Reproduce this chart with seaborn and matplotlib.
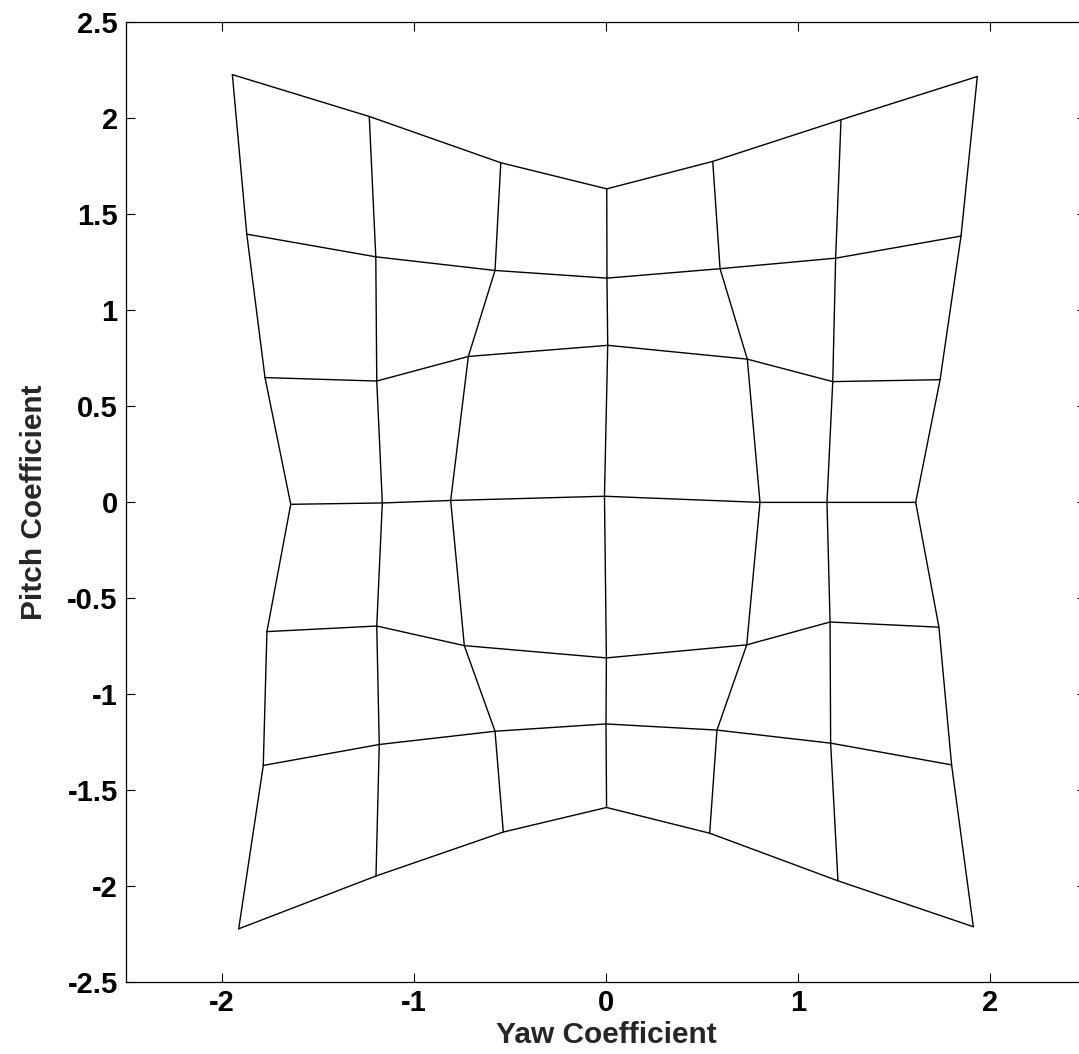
import numpy as np
import pandas as pd
import seaborn as sns
import matplotlib
matplotlib.use("Agg")
import matplotlib.pyplot as plt

# Mesh node coordinates, 7 rows (top to bottom) x 7 columns (left to right)
yaw_rows = [
    [-1.946, -1.233, -0.548, 0.004, 0.556, 1.224, 1.934],
    [-1.871, -1.199, -0.578, 0.005, 0.594, 1.196, 1.849],
    [-1.776, -1.194, -0.717, 0.009, 0.736, 1.181, 1.740],
    [-1.642, -1.165, -0.809, -0.008, 0.802, 1.151, 1.613],
    [-1.766, -1.194, -0.738, 0.002, 0.733, 1.167, 1.734],
    [-1.785, -1.181, -0.578, 0.000, 0.578, 1.170, 1.800],
    [-1.913, -1.198, -0.535, 0.003, 0.540, 1.208, 1.913],
]
pitch_rows = [
    [2.226, 2.008, 1.767, 1.631, 1.774, 1.991, 2.216],
    [1.395, 1.277, 1.206, 1.166, 1.215, 1.270, 1.385],
    [0.648, 0.630, 0.758, 0.816, 0.744, 0.627, 0.637],
    [-0.012, -0.005, 0.008, 0.030, -0.002, -0.002, -0.002],
    [-0.675, -0.646, -0.748, -0.812, -0.744, -0.625, -0.652],
    [-1.372, -1.263, -1.194, -1.156, -1.188, -1.256, -1.369],
    [-2.223, -1.948, -1.719, -1.591, -1.725, -1.973, -2.212],
]
tick_vals = [-2.5, -2, -1.5, -1, -0.5, 0, 0.5, 1, 1.5, 2, 2.5]
tick_labels = ["-2.5", "-2", "-1.5", "-1", "-0.5", "0", "0.5", "1", "1.5", "2", "2.5"]
xtick_vals = [-2, -1, 0, 1, 2]
xtick_labels = ["-2", "-1", "0", "1", "2"]

X = np.array(yaw_rows)
Y = np.array(pitch_rows)
records = []
n_r, n_c = X.shape
for i in range(n_r):
    for j in range(n_c):
        records.append({"line": f"r{i}", "order": j, "Yaw": X[i, j], "Pitch": Y[i, j]})
for j in range(n_c):
    for i in range(n_r):
        records.append({"line": f"c{j}", "order": i, "Yaw": X[i, j], "Pitch": Y[i, j]})
df = pd.DataFrame(records)

sns.set_style("ticks")
plt.rcParams["font.family"] = ["Liberation Sans", "DejaVu Sans"]

fig = plt.figure(figsize=(10.79, 10.54), dpi=100)
ax = fig.add_axes([126 / 1079, 72 / 1054, 960 / 1079, 960 / 1054])

sns.lineplot(data=df, x="Yaw", y="Pitch", units="line", estimator=None,
             sort=False, color="black", linewidth=1.0, ax=ax, legend=False)

ax.set_xlim(-2.5, 2.5)
ax.set_ylim(-2.5, 2.5)
ax.set_xticks(xtick_vals)
ax.set_xticklabels(xtick_labels, fontsize=21, fontweight="bold")
ax.set_yticks(tick_vals)
ax.set_yticklabels(tick_labels, fontsize=21, fontweight="bold")
ax.tick_params(direction="in", length=6.5, width=0.8, top=True, right=True,
               color="black", labelcolor="black")
ax.tick_params(axis="x", pad=5)
ax.tick_params(axis="y", pad=6)
for s in ax.spines.values():
    s.set_visible(True)
    s.set_linewidth(0.9)
    s.set_color("black")
ax.set_xlabel("Yaw Coefficient", fontsize=21.5, fontweight="bold", labelpad=3)
ax.set_ylabel("Pitch Coefficient", fontsize=21.5, fontweight="bold", labelpad=14)
ax.set_facecolor("white")
fig.patch.set_facecolor("white")

fig.savefig("out.png", dpi=100)
